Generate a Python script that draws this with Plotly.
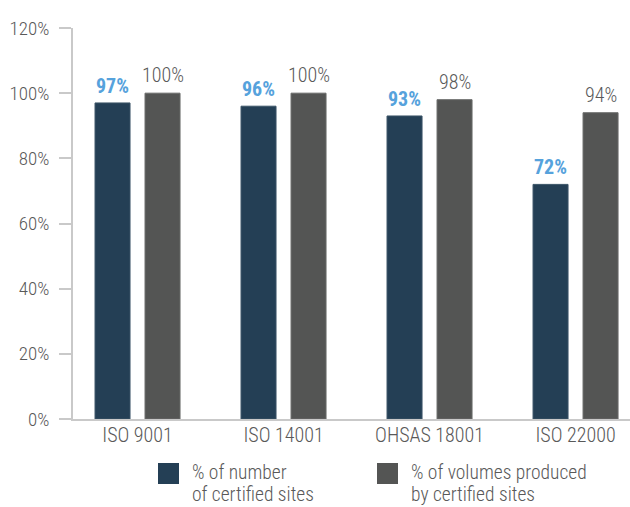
import plotly.graph_objects as go

# Certification coverage by management-system standard
standards = ["ISO 9001", "ISO 14001", "OHSAS 18001", "ISO 22000"]
pct_sites = [97, 96, 93, 72]          # % of number of certified sites
pct_volumes = [100, 100, 98, 94]      # % of volumes produced by certified sites
y_ticks = [0, 20, 40, 60, 80, 100, 120]

series_names = [["% of number", "of certified sites"],
                ["% of volumes produced", "by certified sites"]]

NAVY = "#243f55"
GREY = "#545554"
LABEL_BLUE = "#56a2dc"
TEXT = "#595959"
AXIS = "#c9c9c9"
FONT = "Roboto Condensed, DejaVu Sans Condensed, sans-serif"
LIGHT = 300

W, H = 630, 507
M_L, M_R, M_T, M_B = 73, 0, 28, 88

fig = go.Figure()
fig.add_trace(go.Bar(x=standards, y=pct_sites, marker=dict(color=NAVY, line=dict(color="#3b5467", width=1)),
                     name="sites", showlegend=False, hoverinfo="skip"))
fig.add_trace(go.Bar(x=standards, y=pct_volumes, marker=dict(color=GREY, line=dict(color="#6a6b6a", width=1)),
                     name="volumes", showlegend=False, hoverinfo="skip"))

# value labels above each bar
for cat, v in zip(standards, pct_sites):
    fig.add_annotation(x=cat, y=v, text=f"<b>{v}%</b>", showarrow=False, xshift=-25, yshift=3,
                       yanchor="bottom", font=dict(family=FONT, size=20, color=LABEL_BLUE))
for cat, v in zip(standards, pct_volumes):
    fig.add_annotation(x=cat, y=v, text=f"{v}%", showarrow=False, xshift=25, yshift=4,
                       yanchor="bottom", font=dict(family=FONT, size=20, color=TEXT, weight=LIGHT))

# custom legend (large colour squares with two-line labels)
pw = W - M_L - M_R
ph = H - M_T - M_B


def px_x(px):
    return (px - M_L) / pw


def px_y(py):
    return (H - M_B - py) / ph


legend_items = [(158, NAVY, series_names[0]), (377, GREY, series_names[1])]
for x0, col, lines in legend_items:
    fig.add_shape(type="rect", xref="paper", yref="paper",
                  x0=px_x(x0), x1=px_x(x0 + 21), y0=px_y(484), y1=px_y(463),
                  fillcolor=col, line=dict(color=col, width=0))
    for k, line in enumerate(lines):
        fig.add_annotation(xref="paper", yref="paper", x=px_x(x0 + 33), y=px_y(472 + 22 * k),
                           xanchor="left", yanchor="middle", align="left", showarrow=False,
                           borderpad=0,
                           text=line, font=dict(family=FONT, size=19.5, color=TEXT, weight=LIGHT))

fig.update_layout(
    width=W, height=H,
    margin=dict(l=M_L, r=M_R, t=M_T, b=M_B),
    paper_bgcolor="white", plot_bgcolor="white",
    barmode="group", bargap=0.315, bargroupgap=0.3,
    font=dict(family=FONT, color=TEXT, weight=LIGHT),
)
fig.update_xaxes(
    range=[-0.442, 3.373], showgrid=False, zeroline=False,
    showline=True, linecolor=AXIS, linewidth=1.5,
    ticks="", ticklabelstandoff=-3,
    tickfont=dict(family=FONT, size=20, color=TEXT, weight=LIGHT),
)
fig.update_yaxes(
    range=[0, 120], tickvals=y_ticks, ticktext=[f"{t}%" for t in y_ticks],
    showgrid=False, zeroline=False,
    showline=True, linecolor=AXIS, linewidth=1.5,
    ticks="outside", ticklen=12, tickwidth=1.5, tickcolor=AXIS,
    ticklabelstandoff=6,
    tickfont=dict(family=FONT, size=19, color=TEXT, weight=LIGHT),
)

fig.write_html("out.html")
